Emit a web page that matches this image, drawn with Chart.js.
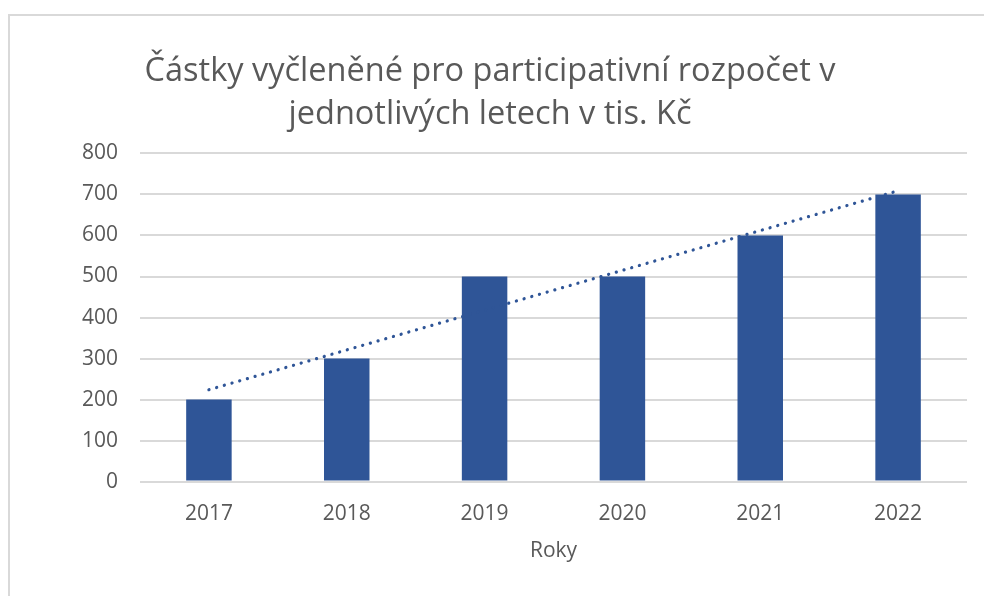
<!DOCTYPE html>
<html>
<head>
<meta charset="utf-8">
<script src="https://cdn.jsdelivr.net/npm/chart.js@4.4.1/dist/chart.umd.min.js"></script>
<style>
  html, body { margin: 0; padding: 0; background: #fff; overflow: hidden; }
  #frame { position: absolute; left: 8px; top: 14px; width: 1000px; height: 620px; border: 2px solid #d9d9d9; box-sizing: border-box; }
  #wrap { position: absolute; left: 0; top: 0; width: 984px; height: 596px; }
</style>
</head>
<body>
<div id="frame"></div>
<div id="wrap"><canvas id="chart" width="984" height="596"></canvas></div>
<script>
// Data
const years = ['2017', '2018', '2019', '2020', '2021', '2022'];
const amounts = [200, 300, 500, 500, 600, 700];
// linear trend line, only the end points
const trendValues = [224, null, null, null, null, 709];
const yTicks = [0, 100, 200, 300, 400, 500, 600, 700, 800];

const textColor = '#595959';
const barColor = '#2f5597';
const fontFamily = '"Open Sans", "Noto Sans", sans-serif';

const ctx = document.getElementById('chart').getContext('2d');

new Chart(ctx, {
  data: {
    labels: years,
    datasets: [
      {
        type: 'line',
        label: 'Trend',
        data: trendValues,
        spanGaps: true,
        borderColor: barColor,
        borderWidth: 3.2,
        borderDash: [0.1, 7.9],
        borderCapStyle: 'round',
        pointRadius: 0,
        fill: false,
        order: 0
      },
      {
        type: 'bar',
        label: 'Částka',
        data: amounts,
        backgroundColor: barColor,
        categoryPercentage: 1,
        barPercentage: 0.33,
        order: 1
      }
    ]
  },
  options: {
    responsive: false,
    animation: false,
    layout: { padding: { left: 13, right: 17, top: 13, bottom: 28 } },
    plugins: {
      legend: { display: false },
      tooltip: { enabled: false },
      title: {
        display: true,
        text: ['Částky vyčleněné pro participativní rozpočet v', 'jednotlivých letech v tis. Kč'],
        color: textColor,
        font: { family: fontFamily, size: 32.5, weight: 'normal', lineHeight: 1.33 },
        padding: { top: 37, bottom: 17 }
      }
    },
    scales: {
      x: {
        grid: { display: false, drawTicks: false },
        border: { display: false },
        ticks: {
          color: textColor,
          font: { family: fontFamily, size: 21 },
          padding: 20
        },
        title: {
          display: true,
          text: 'Roky',
          color: textColor,
          font: { family: fontFamily, size: 21 },
          padding: { top: -8, bottom: 4 }
        }
      },
      y: {
        min: 0,
        max: 800,
        afterBuildTicks: axis => { axis.ticks = yTicks.map(v => ({ value: v })); },
        afterFit: axis => { axis.width = 127; },
        grid: { color: '#d9d9d9', lineWidth: 2, drawTicks: false },
        border: { display: false },
        ticks: {
          color: textColor,
          font: { family: fontFamily, size: 21 },
          padding: 22
        }
      }
    }
  }
});
</script>
</body>
</html>
